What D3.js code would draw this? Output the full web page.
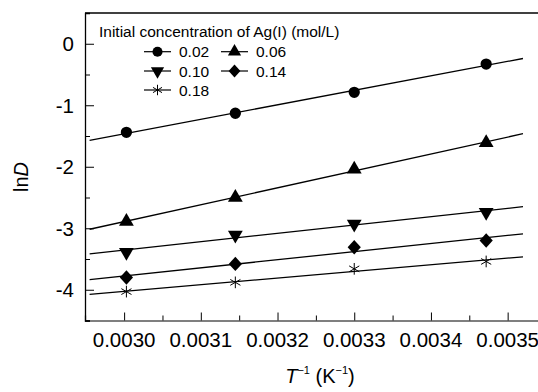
<!DOCTYPE html>
<html>
<head>
<meta charset="utf-8">
<script src="https://cdn.jsdelivr.net/npm/d3@7"></script>
<style>
  body { margin: 0; background: #fff; }
  svg { display: block; font-family: Arial, "Liberation Sans", sans-serif; }
</style>
</head>
<body>
<div id="chart"></div>
<script>
// inverse temperatures (1/K) at 333, 318, 303, 288 K
const invT = [0.003003, 0.003145, 0.0033, 0.003472];

// ln D for each initial Ag(I) concentration
const concentrations = ["0.02", "0.06", "0.10", "0.14", "0.18"];
const lnD002 = [-1.44, -1.13, -0.79, -0.33];
const lnD006 = [-2.89, -2.50, -2.04, -1.61];
const lnD010 = [-3.39, -3.11, -2.93, -2.74];
const lnD014 = [-3.80, -3.58, -3.31, -3.20];
const lnD018 = [-4.03, -3.88, -3.66, -3.54];

const xTicks = [0.003, 0.0031, 0.0032, 0.0033, 0.0034, 0.0035];
const yTicks = [0, -1, -2, -3, -4];
const fitRange = [0.002955, 0.00352];

const width = 538;
const height = 392;

const series = [
  { name: concentrations[0], values: lnD002, symbol: d3.symbolCircle, size: 100 },
  { name: concentrations[1], values: lnD006, symbol: d3.symbolTriangle, size: 95 },
  { name: concentrations[2], values: lnD010, symbol: "down", size: 95 },
  { name: concentrations[3], values: lnD014, symbol: "diamond", size: 100 },
  { name: concentrations[4], values: lnD018, symbol: "star", size: 95 },
];

const x = d3.scaleLinear().domain([0.002949, 0.00355]).range([85, 546]);
const y = d3.scaleLinear().domain([-4.5, 0.5]).range([320.5, 13]);

const svg = d3
  .select("#chart")
  .append("svg")
  .attr("width", width)
  .attr("height", height);

// least-squares fit of ln D against 1/T
function fit(values) {
  const mx = d3.mean(invT);
  const my = d3.mean(values);
  const sxy = d3.sum(invT, (t, i) => (t - mx) * (values[i] - my));
  const sxx = d3.sum(invT, (t) => (t - mx) * (t - mx));
  const slope = sxy / sxx;
  return (t) => my + slope * (t - mx);
}

function markerPath(s, size) {
  if (s === "down") {
    return d3.symbol(d3.symbolTriangle, size)();
  }
  if (s === "diamond") {
    const w = Math.sqrt(size) * 0.66;
    const h = Math.sqrt(size) * 0.72;
    return `M0,${-h}L${w},0L0,${h}L${-w},0Z`;
  }
  if (s === "star") {
    // asterisk: vertical stroke plus two diagonals
    const r = Math.sqrt(size) * 0.6;
    let p = "";
    [0, 60, 120].forEach((deg) => {
      const a = (deg * Math.PI) / 180;
      p += `M${-r * Math.sin(a)},${-r * Math.cos(a)}L${r * Math.sin(a)},${r * Math.cos(a)}`;
    });
    return p;
  }
  return d3.symbol(s, size)();
}

function drawMarker(g, s, size) {
  const path = g.append("path").attr("d", markerPath(s.symbol, size));
  if (s.symbol === "star") {
    path.attr("fill", "none").attr("stroke", "#000").attr("stroke-width", 1);
  } else {
    path.attr("fill", "#000");
    if (s.symbol === "down") path.attr("transform", "rotate(180)");
  }
  return path;
}

/* AXES */
// top frame line
svg
  .append("line")
  .attr("x1", 85)
  .attr("x2", width)
  .attr("y1", y(0.5))
  .attr("y2", y(0.5))
  .attr("stroke", "#000")
  .attr("stroke-width", 1.3);

const xAxis = svg
  .append("g")
  .attr("transform", `translate(0,${y(-4.5)})`)
  .call(
    d3
      .axisTop(x)
      .tickValues(d3.range(0.003, 0.00356, 0.00005))
      .tickSize(5)
      .tickFormat("")
  );
xAxis.select(".domain").attr("stroke", "#555").attr("stroke-width", 1.3);
xAxis.selectAll(".tick line").attr("stroke", "#000");
xAxis
  .selectAll(".tick line")
  .filter((d) => xTicks.some((v) => Math.abs(v - d) < 1e-8))
  .attr("y2", -8);

svg
  .append("g")
  .selectAll("text")
  .data(xTicks)
  .join("text")
  .attr("x", (d) => x(d))
  .attr("y", y(-4.5) + 26.5)
  .attr("text-anchor", "middle")
  .attr("font-size", 20.5)
  .text((d) => d.toFixed(4));

const yAxis = svg
  .append("g")
  .attr("transform", `translate(85,0)`)
  .call(
    d3
      .axisRight(y)
      .tickValues(d3.range(-4.5, 0.51, 0.5))
      .tickSize(5)
      .tickFormat("")
  );
yAxis.select(".domain").attr("stroke", "#000").attr("stroke-width", 1.3);
yAxis
  .selectAll(".tick line")
  .filter((d) => Number.isInteger(d))
  .attr("x2", 9);

svg
  .append("g")
  .selectAll("text")
  .data(yTicks)
  .join("text")
  .attr("x", 74)
  .attr("y", (d) => y(d))
  .attr("dy", "0.36em")
  .attr("text-anchor", "end")
  .attr("font-size", 20.5)
  .text((d) => (d === 0 ? "0" : d));

// axis titles
const yTitle = svg
  .append("text")
  .attr("transform", "translate(28,177) rotate(-90)")
  .attr("text-anchor", "middle")
  .attr("font-size", 20);
yTitle.append("tspan").text("ln");
yTitle.append("tspan").attr("font-style", "italic").text("D");

const xTitle = svg
  .append("text")
  .attr("x", 320)
  .attr("y", 383)
  .attr("text-anchor", "middle")
  .attr("font-size", 20);
xTitle.append("tspan").attr("font-style", "italic").text("T");
xTitle.append("tspan").attr("font-size", 11).attr("dy", -9).text("\u22121");
xTitle.append("tspan").attr("dy", 9).text(" (K");
xTitle.append("tspan").attr("font-size", 11).attr("dy", -9).text("\u22121");
xTitle.append("tspan").attr("dy", 9).text(")");

/* FIT LINES AND POINTS */
const plot = svg.append("g");

series.forEach((s) => {
  const f = fit(s.values);
  plot
    .append("line")
    .attr("x1", x(fitRange[0]))
    .attr("y1", y(f(fitRange[0])))
    .attr("x2", x(fitRange[1]))
    .attr("y2", y(f(fitRange[1])))
    .attr("stroke", "#000")
    .attr("stroke-width", 1.3);

  s.values.forEach((v, i) => {
    const g = plot
      .append("g")
      .attr("transform", `translate(${x(invT[i])},${y(v)})`);
    drawMarker(g, s, s.size);
  });
});

/* LEGEND */
const legend = svg.append("g");
legend
  .append("text")
  .attr("x", 99)
  .attr("y", 37)
  .attr("font-size", 15.5)
  .text("Initial concentration of Ag(I) (mol/L)");

const colX = [144, 221];
const rowY = [51.7, 71, 90];

series.forEach((s, i) => {
  const lx = colX[i % 2];
  const ly = rowY[Math.floor(i / 2)];
  const item = legend.append("g").attr("transform", `translate(${lx},${ly})`);
  item
    .append("line")
    .attr("x1", 0)
    .attr("x2", 27)
    .attr("stroke", "#000")
    .attr("stroke-width", 1.2);
  const m = item.append("g").attr("transform", "translate(13.5,0)");
  drawMarker(m, s, s.size * 0.8);
  item
    .append("text")
    .attr("x", 35)
    .attr("dy", "0.36em")
    .attr("font-size", 15.5)
    .text(s.name);
});
</script>
</body>
</html>
